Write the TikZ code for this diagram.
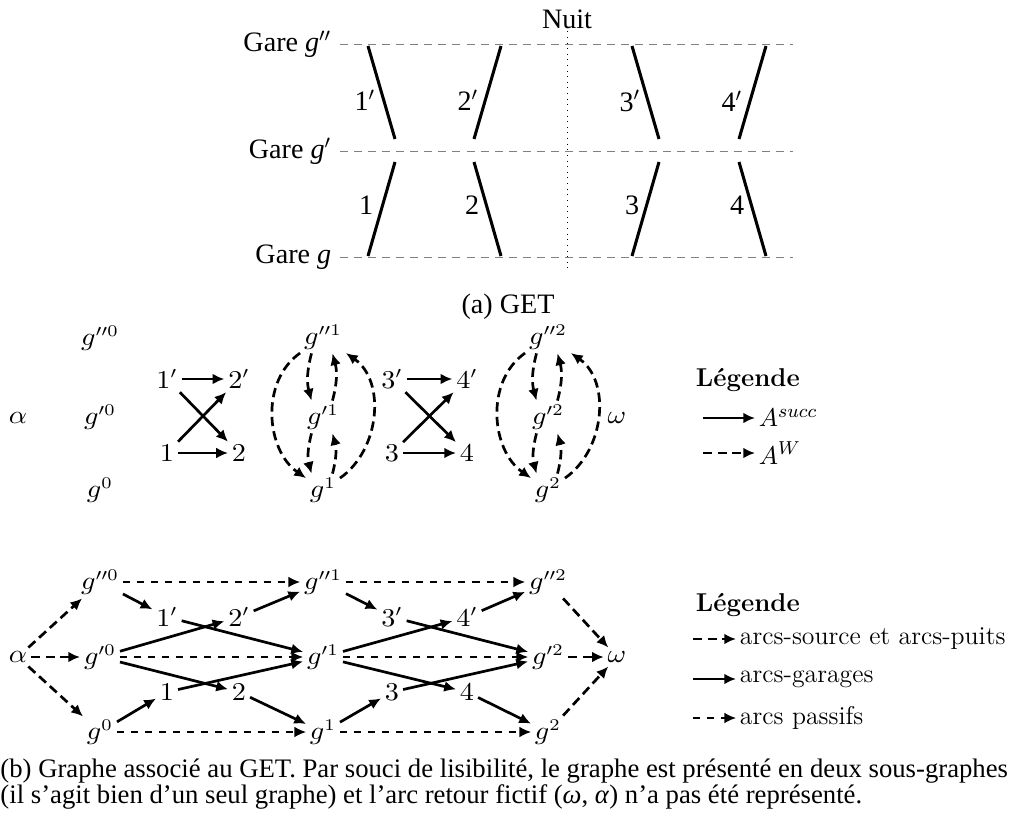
\documentclass[tikz,border=0pt]{standalone}
\usepackage{amsmath, amssymb}
\usepackage{graphicx}
\usepackage{fontspec}
\newfontfamily\utopia{Liberation Serif}
\usetikzlibrary{arrows, arrows.meta}
\newcommand{\gv}[1]{\scalebox{1.1}[1]{$#1$}}

\begin{document}
\begin{tikzpicture}
        [x=0.015cm, y=0.015cm,
        gare/.style={gray, thin, dash pattern=on 3.4pt off 2.6pt},
        train/.style={line width=1.3pt},
        txt/.style={font=\utopia\fontsize{12}{14}\selectfont, inner sep=1pt},
        captxt/.style={font=\utopia\fontsize{11.4}{13}\selectfont, inner sep=0pt, anchor=base west},
        vertex/.style={font=\fontsize{10.5}{12}\selectfont, inner sep=1.5pt},
        leg/.style={font=\fontsize{11}{13}\selectfont, inner sep=1.5pt, anchor=west},
        arr/.style={-{Latex[length=5pt,width=4.6pt]},line width=1.15pt},
        src/.style={arr, dash pattern=on 4pt off 2.2pt},
        pas/.style={-{Latex[length=5pt,width=4.6pt]},line width=0.65pt, dash pattern=on 3pt off 3pt}]
        \useasboundingbox (0,0) rectangle (1018,820);

        % (a) GET
        \node (Gpp) at (334,776) [txt, anchor=east] {Gare \textit{g}$''$};
        \node (Gp) at (334,669) [txt, anchor=east] {Gare \textit{g}$'$};
        \node (G) at (334,563) [txt, anchor=east] {Gare \textit{g}};
        \coordinate (Spp) at (340,776);
        \coordinate (Sp) at (340,669);
        \coordinate (S) at (340,563);
        \coordinate (Epp) at (793,776);
        \coordinate (Ep) at (793,669);
        \coordinate (E) at (793,563);
        \draw[gare] (Spp) -- (Epp);
        \draw[gare] (Sp) -- (Ep);
        \draw[gare] (S) -- (E);
        \node (nuit) at (567,801) [txt] {Nuit};
        \coordinate (nb) at (567,548);
        \draw[dotted] (nuit) -- (nb);
        \draw[train] (368,774) -- (395,681);
        \draw[train] (501,774) -- (474,681);
        \draw[train] (632,774) -- (659,681);
        \draw[train] (766,774) -- (739,681);
        \draw[train] (395,658) -- (368,564);
        \draw[train] (474,658) -- (501,564);
        \draw[train] (659,658) -- (632,564);
        \draw[train] (739,658) -- (766,564);
        \node (t1p) at (378,720) [txt, anchor=east] {1$'$};
        \node (t2p) at (481,720) [txt, anchor=east] {2$'$};
        \node (t3p) at (643,719) [txt, anchor=east] {3$'$};
        \node (t4p) at (745,719) [txt, anchor=east] {4$'$};
        \node (t1) at (376,615) [txt, anchor=east] {1};
        \node (t2) at (482,615) [txt, anchor=east] {2};
        \node (t3) at (642,615) [txt, anchor=east] {3};
        \node (t4) at (747,615) [txt, anchor=east] {4};
        \node (capa) at (508,513) [txt] {(a) GET};

        % (b) sous-graphe 1
        \node (al1) at (18,402) [vertex] {\gv{\alpha}};
        \node (gpp0) at (100,482) [vertex] {\gv{g''^0}};
        \node (gp0) at (100,403) [vertex] {\gv{g'^0}};
        \node (g0) at (100,330) [vertex] {\gv{g^0}};
        \node (a2p) at (239,441) [vertex] {\gv{2'}};
        \node (a2) at (239,367) [vertex] {\gv{2}};
        \node (a1p) at (167,441) [vertex] {\gv{1'}}
           edge[arr] (a2p)
           edge[arr] (a2);
        \node (a1) at (167,367) [vertex] {\gv{1}}
           edge[arr] (a2)
           edge[arr] (a2p);
        \node (gpp1) at (323,483) [vertex] {\gv{g''^1}};
        \node (gp1) at (323,403) [vertex] {\gv{g'^1}};
        \node (g1) at (323,330) [vertex] {\gv{g^1}};
        \path (gpp1.-125) edge[src, bend right=15] (gp1.125)
              (gp1.60) edge[src, bend right=15] (gpp1.-60)
              (gp1.-125) edge[src, bend right=15] (g1.125)
              (g1.60) edge[src, bend right=15] (gp1.-60)
              (gpp1) edge[src, out=215, in=145] (g1)
              (g1) edge[src, out=35, in=-35] (gpp1);
        \node (a4p) at (467,441) [vertex] {\gv{4'}};
        \node (a4) at (467,367) [vertex] {\gv{4}};
        \node (a3p) at (392,441) [vertex] {\gv{3'}}
           edge[arr] (a4p)
           edge[arr] (a4);
        \node (a3) at (392,367) [vertex] {\gv{3}}
           edge[arr] (a4)
           edge[arr] (a4p);
        \node (gpp2) at (548,483) [vertex] {\gv{g''^2}};
        \node (gp2) at (548,403) [vertex] {\gv{g'^2}};
        \node (g2) at (548,330) [vertex] {\gv{g^2}};
        \path (gpp2.-125) edge[src, bend right=15] (gp2.125)
              (gp2.60) edge[src, bend right=15] (gpp2.-60)
              (gp2.-125) edge[src, bend right=15] (g2.125)
              (g2.60) edge[src, bend right=15] (gp2.-60)
              (gpp2) edge[src, out=215, in=145] (g2)
              (g2) edge[src, out=35, in=-35] (gpp2);
        \node (om1) at (617,402) [vertex] {\gv{\omega}};
        % legende 1
        \node (lg1) at (692,440) [leg] {\textbf{Légende}};
        \coordinate (la1) at (703,402);
        \coordinate (lb1) at (703,367);
        \node (lsucc) at (755,402) [leg] {$A^{succ}$};
        \node (lw) at (755,367) [leg] {$A^{W}$};
        \draw[arr] (la1) -- (lsucc);
        \draw[src] (lb1) -- (lw);

        % (b) sous-graphe 2
        \node (om) at (617,163) [vertex] {\gv{\omega}};
        \node (hpp2) at (548,238) [vertex] {\gv{g''^2}}
           edge[src] (om);
        \node (hp2) at (548,163) [vertex] {\gv{g'^2}}
           edge[src] (om);
        \node (h2) at (548,88) [vertex] {\gv{g^2}}
           edge[src] (om);
        \node (b4p) at (467,203) [vertex] {\gv{4'}}
           edge[arr] (hpp2);
        \node (b4) at (467,128) [vertex] {\gv{4}}
           edge[arr] (h2);
        \node (b3p) at (392,203) [vertex] {\gv{3'}}
           edge[arr] (hp2);
        \node (b3) at (392,128) [vertex] {\gv{3}}
           edge[arr] (hp2);
        \node (hpp1) at (323,238) [vertex] {\gv{g''^1}}
           edge[pas] (hpp2)
           edge[arr] (b3p);
        \node (hp1) at (323,163) [vertex] {\gv{g'^1}}
           edge[pas] (hp2)
           edge[arr] (b4p)
           edge[arr] (b4);
        \node (h1) at (323,88) [vertex] {\gv{g^1}}
           edge[pas] (h2)
           edge[arr] (b3);
        \node (b2p) at (239,203) [vertex] {\gv{2'}}
           edge[arr] (hpp1);
        \node (b2) at (239,128) [vertex] {\gv{2}}
           edge[arr] (h1);
        \node (b1p) at (167,203) [vertex] {\gv{1'}}
           edge[arr] (hp1);
        \node (b1) at (167,128) [vertex] {\gv{1}}
           edge[arr] (hp1);
        \node (hpp0) at (100,238) [vertex] {\gv{g''^0}}
           edge[pas] (hpp1)
           edge[arr] (b1p);
        \node (hp0) at (100,163) [vertex] {\gv{g'^0}}
           edge[pas] (hp1)
           edge[arr] (b2p)
           edge[arr] (b2);
        \node (h0) at (100,88) [vertex] {\gv{g^0}}
           edge[pas] (h1)
           edge[arr] (b1);
        \node (al) at (18,163) [vertex] {\gv{\alpha}}
           edge[src] (hpp0)
           edge[src] (hp0)
           edge[src] (h0);
        % legende 2
        \node (lg2) at (692,215) [leg] {\textbf{Légende}};
        \coordinate (lc1) at (693,181);
        \coordinate (lc2) at (693,141);
        \coordinate (lc3) at (693,102);
        \node (lsrc) at (736,181) [leg] {arcs-source et arcs-puits};
        \node (lgar) at (736,141) [leg] {arcs-garages};
        \node (lpas) at (736,102) [leg] {arcs passifs};
        \draw[src] (lc1) -- (lsrc);
        \draw[arr] (lc2) -- (lgar);
        \draw[pas] (lc3) -- (lpas);

        % legende (b)
        \node (capb1) at (0,43) [captxt] {(b) Graphe associé au GET. Par souci de lisibilité, le graphe est présenté en deux sous-graphes};
        \node (capb2) at (0,17) [captxt] {(il s’agit bien d’un seul graphe) et l’arc retour fictif (\textit{ω}, \textit{α}) n’a pas été représenté.};
\end{tikzpicture}
\end{document}
